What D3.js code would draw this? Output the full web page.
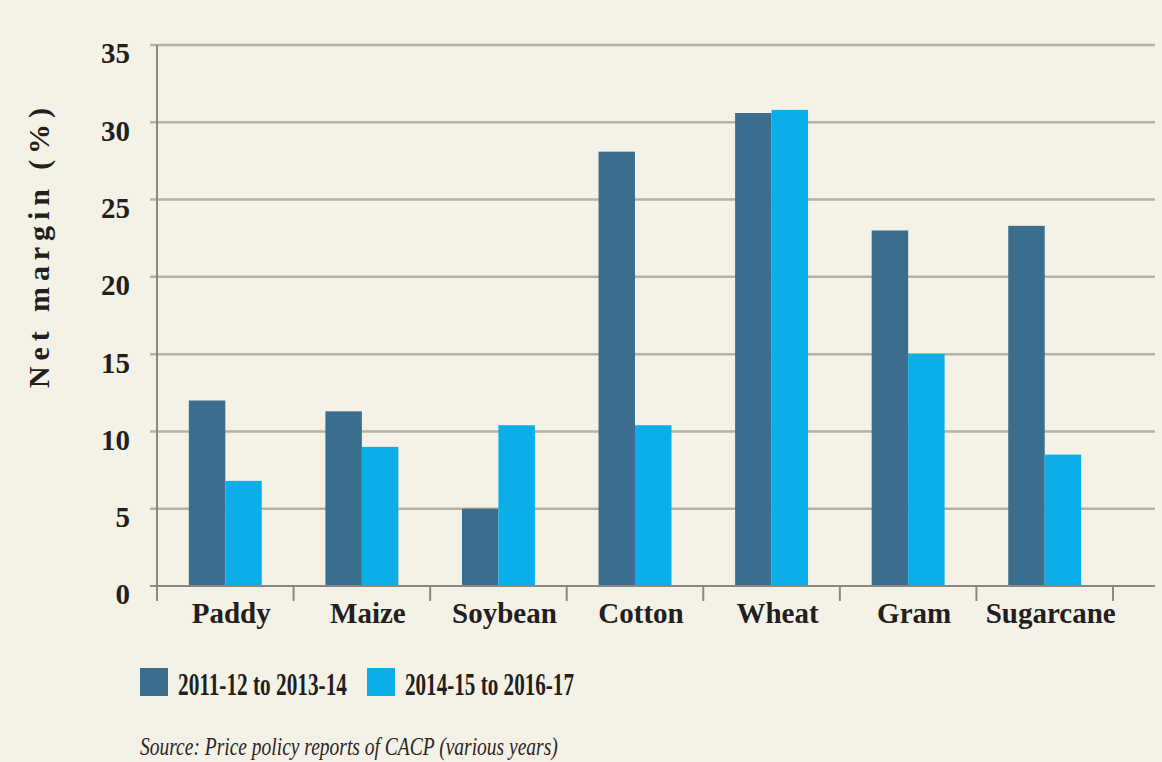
<!DOCTYPE html>
<html lang="en">
<head>
<meta charset="UTF-8">
<title>Net margin</title>
<script src="https://cdn.jsdelivr.net/npm/d3@7"></script>
<style>
  body { margin: 0; background: #f4f1e6; }
  svg { display: block; }
</style>
</head>
<body>
<svg width="1162" height="762" id="mainsvg"></svg>
<script>
const crops = ['Paddy', 'Maize', 'Soybean', 'Cotton', 'Wheat', 'Gram', 'Sugarcane']
const series = ['2011-12 to 2013-14', '2014-15 to 2016-17']
const early = [12.0, 11.3, 5.0, 28.1, 30.6, 23.0, 23.3]
const late = [6.8, 9.0, 10.4, 10.4, 30.8, 15.0, 8.5]
const yTicks = [0, 5, 10, 15, 20, 25, 30, 35]
const colors = ['#3a6d8e', '#0aaee9']

const svg = d3.select('#mainsvg')
const width = +svg.attr('width')
const height = +svg.attr('height')
svg.append('rect').attr('width', width).attr('height', height).attr('fill', '#f4f1e6')

const plotLeft = 157, plotRight = 1155, plotTop = 45, plotBottom = 586
const serif = '"Liberation Serif", "DejaVu Serif", serif'

const x0 = d3.scaleBand().domain(crops).range([plotLeft, 1113])
  .paddingInner(0.466).paddingOuter(0.233)
const x1 = d3.scaleBand().domain(series).range([0, x0.bandwidth()])
const y = d3.scaleLinear().domain([0, 35]).range([plotBottom, plotTop])

// grid lines
svg.append('g').selectAll('line').data(yTicks.filter(d => d > 0)).join('line')
  .attr('x1', plotLeft - 7).attr('x2', plotRight)
  .attr('y1', d => y(d)).attr('y2', d => y(d))
  .attr('stroke', '#b4b1a6').attr('stroke-width', 2.5)

// y axis
const yAxis = d3.axisLeft(y).tickValues(yTicks).tickSize(0).tickPadding(27)
const gy = svg.append('g').attr('transform', `translate(${plotLeft},0)`).call(yAxis)
gy.select('.domain').remove()
gy.selectAll('.tick text')
  .attr('font-family', serif).attr('font-weight', 'bold').attr('font-size', 29)
  .attr('fill', '#231f20').attr('dy', '0.62em')
svg.append('line').attr('x1', plotLeft).attr('x2', plotLeft).attr('y1', plotTop).attr('y2', plotBottom + 15)
  .attr('stroke', '#8a8880').attr('stroke-width', 2)
svg.append('line').attr('x1', plotLeft - 7).attr('x2', plotLeft).attr('y1', plotBottom).attr('y2', plotBottom)
  .attr('stroke', '#8a8880').attr('stroke-width', 2)

// bars
const table = crops.map((c, i) => ({ crop: c, values: [early[i], late[i]] }))
svg.append('g').selectAll('g').data(table).join('g')
  .attr('transform', d => `translate(${x0(d.crop)},0)`)
  .selectAll('rect').data(d => d.values.map((v, k) => ({ key: series[k], v, k }))).join('rect')
  .attr('x', d => x1(d.key)).attr('width', x1.bandwidth())
  .attr('y', d => y(d.v)).attr('height', d => y(0) - y(d.v))
  .attr('fill', d => colors[d.k])

// x axis
svg.append('line').attr('x1', plotLeft).attr('x2', plotRight).attr('y1', plotBottom).attr('y2', plotBottom)
  .attr('stroke', '#8a8880').attr('stroke-width', 2)
const step = x0.step()
svg.append('g').selectAll('line').data(d3.range(crops.length + 1)).join('line')
  .attr('x1', i => plotLeft + i * step).attr('x2', i => plotLeft + i * step)
  .attr('y1', plotBottom).attr('y2', plotBottom + 15)
  .attr('stroke', '#8a8880').attr('stroke-width', 2)
svg.append('g').selectAll('text').data(crops).join('text')
  .attr('x', d => x0(d) + x0.bandwidth() / 2 + 6).attr('y', 623)
  .attr('text-anchor', 'middle')
  .attr('font-family', serif).attr('font-weight', 'bold').attr('font-size', 29)
  .attr('fill', '#231f20').text(d => d)

// y title
svg.append('text')
  .attr('transform', 'translate(49,248) rotate(-90)')
  .attr('text-anchor', 'middle')
  .attr('font-family', serif).attr('font-weight', 'bold').attr('font-size', 30)
  .attr('fill', '#231f20')
  .attr('textLength', 280).attr('lengthAdjust', 'spacing')
  .text('Net margin (%)')

// squeezed text (the original uses a condensed face)
function narrowText(x, yPos, str, targetW, attrs) {
  const g = svg.append('g')
  const t = g.append('text').text(str)
  Object.entries(attrs).forEach(([k, v]) => t.attr(k, v))
  const w = t.node().getComputedTextLength()
  g.attr('transform', `translate(${x},${yPos}) scale(${targetW / w},1)`)
}

// legend
const legendX = [140, 367]
series.forEach((s, i) => {
  svg.append('rect').attr('x', legendX[i]).attr('y', 668).attr('width', 28).attr('height', 28)
    .attr('fill', colors[i])
  narrowText(legendX[i] + 38, 695, s, 169, {
    'font-family': serif, 'font-weight': 'bold', 'font-size': 32, fill: '#231f20'
  })
})

// source
narrowText(140, 755, 'Source: Price policy reports of CACP (various years)', 418, {
  'font-family': serif, 'font-style': 'italic', 'font-size': 26, fill: '#2a2627'
})
</script>
</body>
</html>
